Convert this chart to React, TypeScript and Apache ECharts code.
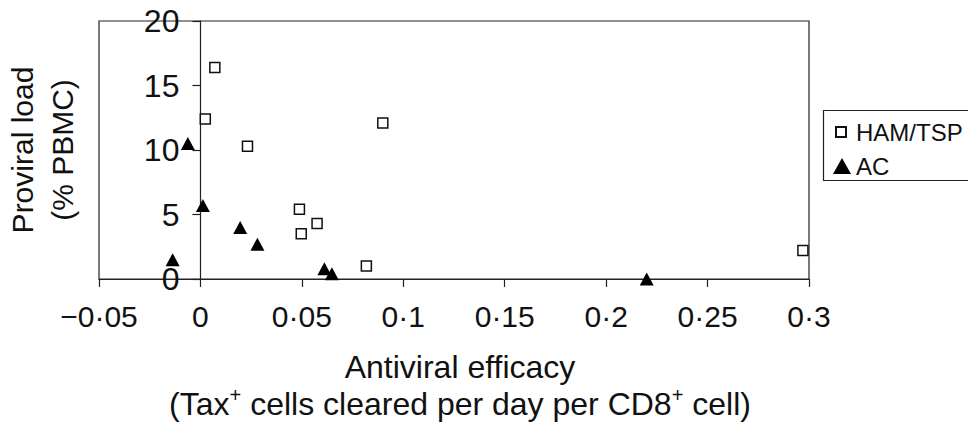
import React, { useEffect, useRef } from "react";
import * as echarts from "echarts";

// ---- data ----
const hamX = [0.0071, 0.0024, 0.0232, 0.0899, 0.0488, 0.0575, 0.0497, 0.0818, 0.297];
const hamY = [16.4, 12.4, 10.3, 12.1, 5.4, 4.3, 3.5, 1.0, 2.2];
const acX = [-0.0062, 0.0012, 0.0196, 0.0281, -0.0137, 0.0611, 0.0648, 0.22];
const acY = [10.5, 5.7, 4.0, 2.7, 1.5, 0.8, 0.4, 0.0];

const xMin = -0.05;
const xMax = 0.3;
const xStep = 0.05;
const xTickLabels = ["\u22120\u00b705", "0", "0\u00b705", "0\u00b71", "0\u00b715", "0\u00b72", "0\u00b725", "0\u00b73"];
const yMin = 0;
const yMax = 20;
const yStep = 5;
const yTickLabels = ["0", "5", "10", "15", "20"];

const seriesNames = ["HAM/TSP", "AC"];

const FONT = "'Liberation Sans', Arial, Helvetica, sans-serif";
const INK = "#111";
const LINE = "#222";

const GRID_LEFT = 99;
const GRID_RIGHT = 159;
const WIDTH = 968;

export default function App() {
  const ref = useRef<HTMLDivElement>(null);

  useEffect(() => {
    if (!ref.current) return;
    const chart = echarts.init(ref.current, undefined, { renderer: "svg" });
    const lineStyle = { color: LINE, width: 1.2 };
    // shift the y axis (line, ticks, labels) to sit at x = 0, as in the reference
    const plotW = WIDTH - GRID_LEFT - GRID_RIGHT;
    const yAxisShift = (plotW * (0 - xMin)) / (xMax - xMin);

    chart.setOption({
      animation: false,
      textStyle: { fontFamily: FONT, color: INK },
      grid: {
        left: GRID_LEFT,
        right: GRID_RIGHT,
        top: 21,
        bottom: 147,
        containLabel: false,
        outerBoundsMode: "none",
        show: true,
        borderColor: LINE,
        borderWidth: 1.2,
        backgroundColor: "transparent",
      },
      xAxis: {
        type: "value",
        min: xMin,
        max: xMax,
        interval: xStep,
        axisLine: { show: true, onZero: true, lineStyle },
        axisTick: { show: true, length: 8, inside: false, lineStyle },
        splitLine: { show: false },
        axisLabel: {
          margin: 22,
          fontSize: 30,
          color: INK,
          fontFamily: FONT,
          formatter: (v: number) => xTickLabels[Math.round((v - xMin) / xStep)] ?? "",
        },
        name: "Antiviral efficacy\n(Tax{sup|+} cells cleared per day per CD8{sup|+} cell)",
        nameLocation: "middle",
        nameGap: 69,
        nameTextStyle: {
          fontSize: 32,
          lineHeight: 37,
          color: INK,
          fontFamily: FONT,
          padding: [0, 0, 0, 12],
          rich: {
            sup: { fontSize: 20, lineHeight: 22, verticalAlign: "top", color: INK, fontFamily: FONT },
          },
        },
      },
      yAxis: {
        type: "value",
        min: yMin,
        max: yMax,
        interval: yStep,
        offset: -yAxisShift,
        axisLine: { show: true, onZero: false, lineStyle },
        axisTick: { show: true, length: 8, inside: false, lineStyle },
        splitLine: { show: false },
        axisLabel: {
          margin: 21,
          fontSize: 32,
          color: INK,
          fontFamily: FONT,
          formatter: (v: number) => yTickLabels[Math.round((v - yMin) / yStep)] ?? "",
        },
        name: "Proviral load\n(% PBMC)",
        nameLocation: "middle",
        nameGap: 118,
        nameTextStyle: { fontSize: 30, lineHeight: 40, color: INK, fontFamily: FONT },
      },
      legend: [
        {
          data: [seriesNames[0]],
          left: 835,
          top: 120,
          padding: 0,
          itemWidth: 10,
          itemHeight: 10,
          selectedMode: false,
          textStyle: { fontSize: 24, color: INK, fontFamily: FONT, padding: [0, 0, 0, 5] },
        },
        {
          data: [seriesNames[1]],
          left: 833,
          top: 154,
          padding: 0,
          itemWidth: 18,
          itemHeight: 16,
          selectedMode: false,
          textStyle: { fontSize: 24, color: INK, fontFamily: FONT },
        },
      ],
      graphic: [
        {
          type: "rect",
          shape: { x: 823.5, y: 110.5, width: 160, height: 70 },
          style: { fill: "none", stroke: LINE, lineWidth: 1.2 },
          silent: true,
        },
      ],
      series: [
        {
          name: seriesNames[0],
          type: "scatter",
          symbol: "rect",
          symbolSize: 10,
          itemStyle: { color: "#fff", borderColor: INK, borderWidth: 1.5, opacity: 1 },
          data: hamX.map((x, i) => [x, hamY[i]]),
          z: 3,
        },
        {
          name: seriesNames[1],
          type: "scatter",
          symbol: "triangle",
          symbolSize: [14, 13],
          itemStyle: { color: "#000", opacity: 1 },
          data: acX.map((x, i) => [x, acY[i]]),
          z: 4,
        },
      ],
    });

    return () => chart.dispose();
  }, []);

  return (
    <div
      ref={ref}
      style={{ position: "absolute", left: 0, top: 0, width: 968, height: 426, background: "#fff" }}
    />
  );
}
